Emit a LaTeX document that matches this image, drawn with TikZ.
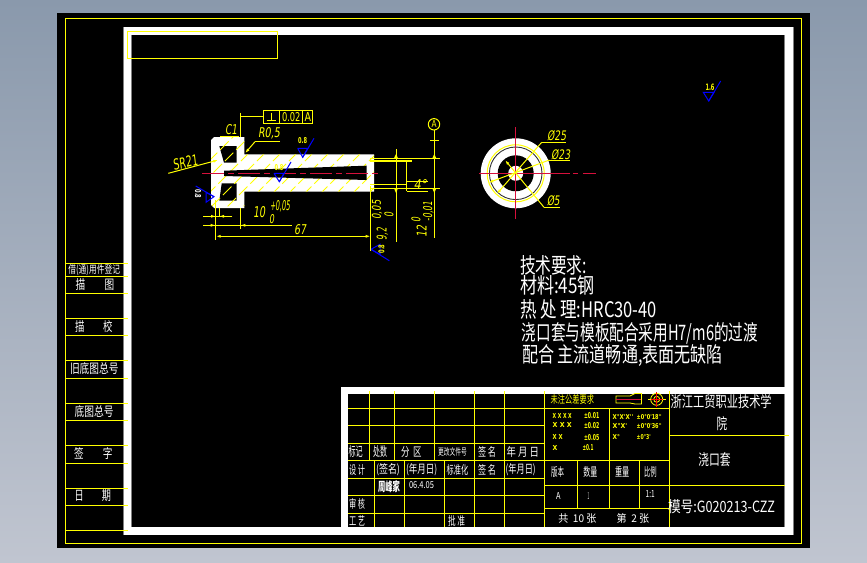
\documentclass[tikz,border=0pt]{standalone}
\usepackage{graphicx}
\usepackage{fontspec}
\setmainfont{Noto Sans CJK SC}
\newfontfamily\latf[FakeSlant=0.2]{DejaVu Sans}
\newfontfamily\plainf{DejaVu Sans}
\usetikzlibrary{arrows.meta}
\definecolor{cadyel}{RGB}{255,255,0}
\definecolor{cadred}{RGB}{214,16,60}
\definecolor{cadblue}{RGB}{0,0,255}
\definecolor{bgtop}{RGB}{138,153,172}
\definecolor{bgbot}{RGB}{192,197,208}
\newcounter{tcnt}
% colour, centre x, centre y, width, height, rotation, text
\newcommand{\tc}[7]{\stepcounter{tcnt}\node[inner sep=0pt,text=#1,rotate=#6] (t\thetcnt) at (#2,#3) {\resizebox{#4pt}{#5pt}{#7}};}
% colour, left x, right x, centre y, height, text
\newcommand{\tl}[6]{\pgfmathsetmacro{\cxa}{(#2+#3)/2}\pgfmathsetmacro{\wxa}{#3-#2}\tc{#1}{\cxa}{#4}{\wxa}{#5}{0}{#6}}
\tikzset{
 yl/.style={draw=cadyel,line width=1pt},
 ythin/.style={draw=cadyel,line width=0.8pt},
 ctr/.style={draw=cadred,line width=0.9pt},
 rough/.style={draw=cadblue,line width=1pt},
 tipa/.style={-{Latex[length=5pt,width=3pt]},draw=cadyel,line width=1pt},
 tipb/.style={{Latex[length=5pt,width=3pt]}-{Latex[length=5pt,width=3pt]},draw=cadyel,line width=1pt},
}
\begin{document}
\begin{tikzpicture}[x=1pt,y=-1pt]
\useasboundingbox (0,0) rectangle (867,562);
\shade[top color=bgtop,bottom color=bgbot] (0,0) rectangle (867,562);
\fill[black] (57,13) rectangle (810,548);
\draw[yl] (65,18.5) rectangle (801.5,543);
% white sheet frame
\fill[white] (124,27) rectangle (793,535);
\fill[black] (131.5,35) rectangle (785,527);
\draw[gray,line width=0.8pt] (123.6,27) -- (123.6,535);
\draw[gray,line width=0.8pt] (131.5,35) -- (131.5,527);
\draw[gray,line width=0.8pt] (793.4,27) -- (793.4,535);
\draw[gray,line width=0.8pt] (784.6,35) -- (784.6,527);
\draw[yl] (127.5,31.5) rectangle (277.5,58.5);
% side table
\foreach \yy in {263.3,276.3,293.3,318.3,335.3,360.3,378.3,403.3,420.3,445.3,463.3,488.3,505.3,530.3}{\draw[yl] (65.5,\yy) -- (127.7,\yy);}
\tl{white}{68.3}{120}{270.3}{9}{借(通)用件登记}
\tl{white}{75.7}{114.3}{284.8}{11}{描\quad\quad 图}
\tl{white}{75}{112.5}{326.7}{11}{描\quad\quad 校}
\tl{white}{70}{118.5}{368.3}{11}{旧底图总号}
\tl{white}{74.5}{113.5}{411.7}{11}{底图总号}
\tl{white}{74}{112.5}{453.7}{11}{签\quad\quad 字}
\tl{white}{74.5}{111}{496}{11}{日\quad\quad 期}
% title block white band
\fill[white] (341,387) rectangle (786,394);
\fill[white] (341,387) rectangle (348.3,527);
\foreach \yy in {408.3,425.7,443.7,460.3,478.3,495.3,513.3}{\draw[yl] (348,\yy) -- (544.3,\yy);}
\foreach \xx in {369.3,394.3,434.3}{\draw[yl] (\xx,391) -- (\xx,460.3);}
\foreach \xx in {474.3,504.3,544.3}{\draw[yl] (\xx,391) -- (\xx,527);}
\foreach \xx in {374.3,404.7,444.7}{\draw[yl] (\xx,460.3) -- (\xx,527);}
\draw[yl] (669.3,391) -- (669.3,527);
\foreach \yy in {408.3,460.3,485,508.3}{\draw[yl] (544.3,\yy) -- (669.3,\yy);}
\draw[yl] (609.3,408.3) -- (609.3,508.3);
\draw[yl] (577.3,460.3) -- (577.3,508.3);
\draw[yl] (639.3,460.3) -- (639.3,508.3);
\draw[yl] (669.3,435.3) -- (789.3,435.3);
\draw[yl] (669.3,485) -- (785,485);
% title block text
\tl{white}{348.5}{362.7}{451.7}{11}{标记}
\tl{white}{373}{387}{451.7}{11}{处数}
\tl{white}{401}{421.7}{451.7}{10}{分\ \ 区}
\tl{white}{438}{467}{452}{8}{更改文件号}
\tl{white}{478}{496}{451.7}{10}{签\ 名}
\tl{white}{506.7}{539}{451.7}{10}{年\ 月\ 日}
\tl{white}{349}{365}{470}{10}{设\ 计}
\tl{white}{376}{400}{470}{10}{(签名)}
\tl{white}{406}{437.3}{470}{10}{(年月日)}
\tl{white}{446.7}{468.3}{470}{10}{标准化}
\tl{white}{478}{496}{470}{10}{签\ 名}
\tl{white}{505.7}{535.7}{470}{10}{(年月日)}
\tl{white}{378}{400}{486.7}{11}{\bfseries 周峰家}
\tl{white}{409}{434}{485.5}{7}{06.4.05}
\tl{white}{349}{365}{504.3}{10}{审\ 核}
\tl{white}{349}{365}{520.7}{10}{工\ 艺}
\tl{white}{448}{465}{520.7}{10}{批\ 准}
\tl{white}{551}{564}{471.5}{10}{版本}
\tl{white}{583.3}{597.3}{471.7}{10}{数量}
\tl{white}{615}{629.3}{471.7}{10}{重量}
\tl{white}{644}{656.7}{471.7}{10}{比例}
\tl{white}{556}{560.5}{495.7}{7}{A}
\tl{white}{587.5}{589}{495.7}{7}{1}
\tl{white}{645.7}{654.7}{494.5}{7}{1:1}
\tl{white}{558.3}{649.3}{518.3}{9}{共\ \ 10\ 张\quad\quad 第\ \ 2\ 张}
\tl{white}{670.7}{771.7}{401.7}{13}{浙江工贸职业技术学}
\tl{white}{716.7}{727.3}{424}{13}{院}
\tl{white}{698.3}{730.7}{460}{13}{浇口套}
\tl{white}{668}{775}{506.7}{13}{模号:G020213-CZZ}
% tolerance table
\tl{cadyel}{550.7}{594}{399}{9}{未注公差要求}
\draw[ythin] (616,396) -- (630,396) -- (635,393.5) -- (641.5,393.5) -- (641.5,404) -- (635,404) -- (630,403) -- (616,403) -- cycle;
\draw[ctr] (616,399.5) -- (641,399.5);
\draw[ythin] (656.7,399.3) circle (6);
\draw[ythin] (656.7,399.3) circle (3);
\draw[ythin] (648,399.3) -- (666,399.3);
\draw[draw=red,line width=1pt] (656.7,392) -- (656.7,407);
\draw[draw=red,line width=1pt] (651,399.3) -- (663,399.3);
\tl{cadyel}{552.7}{571.7}{415.7}{5}{\plainf\bfseries X X X X}
\tl{cadyel}{552.7}{571.7}{425}{5}{\plainf\bfseries X X X}
\tl{cadyel}{552.7}{562.7}{437.3}{5}{\plainf\bfseries X X}
\tl{cadyel}{552.7}{557.5}{447.7}{5}{\plainf\bfseries X}
\tl{cadyel}{584}{599.3}{415.7}{6}{\plainf\bfseries ±0.01}
\tl{cadyel}{584}{599.3}{425.5}{6}{\plainf\bfseries ±0.02}
\tl{cadyel}{584}{599.3}{437.3}{6}{\plainf\bfseries ±0.05}
\tl{cadyel}{582.5}{593.5}{447.7}{6}{\plainf\bfseries ±0.1}
\tl{cadyel}{612.7}{633.3}{416.7}{5}{\plainf\bfseries X°X'X''}
\tl{cadyel}{612.7}{627.3}{426.3}{5}{\plainf\bfseries X°X'}
\tl{cadyel}{612.7}{620}{437.3}{5}{\plainf\bfseries X°}
\tl{cadyel}{636.7}{661.7}{416.7}{5}{\plainf\bfseries ±0°0'18''}
\tl{cadyel}{636.7}{661.7}{426.3}{5}{\plainf\bfseries ±0°0'36''}
\tl{cadyel}{636.7}{650.7}{437.3}{5}{\plainf\bfseries ±0°3'}
% technical requirements
\tl{white}{520}{587}{265}{18}{技术要求:}
\tl{white}{520}{595}{285.5}{18}{材料:45钢}
\tl{white}{520}{657}{309}{18}{热\ 处\ 理:HRC30-40}
\tl{white}{522}{758}{333}{18}{浇口套与模板配合采用H7/m6的过渡}
\tl{white}{522}{723}{356}{18}{配合\ 主流道畅通,表面无缺陷}
% part section
\path[fill=white] (214,137) -- (244.3,137) -- (244.3,154.3) -- (374,154.3) -- (374,191.7) -- (244.3,191.7) -- (244.3,208) -- (214,208) -- (211,205) -- (211,140) -- cycle;
\fill[black] (219.3,146) -- (236.7,146) -- (236.7,162.7) -- (224,162.7) -- cycle;
\fill[black] (221.7,183.3) -- (236.7,183.3) -- (236.7,200.7) -- (219.3,200.7) -- cycle;
\begin{scope}
\clip (214,137) -- (244.3,137) -- (244.3,154.3) -- (374,154.3) -- (374,191.7) -- (244.3,191.7) -- (244.3,208) -- (214,208) -- (211,205) -- (211,140) -- cycle;
\foreach \cc in {370,386,...,570}{\draw[draw=cadyel,line width=1pt,dash pattern=on 12pt off 4pt] (\cc-130,130) -- (\cc-215,215);}
\end{scope}
\fill[black] (224,170.7) -- (366.7,165.7) -- (366.7,180) -- (224,176) -- cycle;
\draw[ctr,dash pattern=on 22pt off 4pt on 6pt off 4pt] (202,173) -- (378,173);
% roughness marks
\draw[rough] (297.7,148.3) -- (307.7,148.3) -- (302.7,157.3) -- (297.7,148.3);
\draw[rough] (302.7,157.3) -- (314,138.3);
\tc{cadyel}{302.7}{141}{9}{6}{0}{\plainf\bfseries 0.8}
\draw[rough] (274,173.3) -- (284,173.3) -- (279.3,181.7) -- (274,173.3);
\draw[rough] (279.3,181.7) -- (291,162);
\tc{cadyel}{279}{167.5}{9}{6}{0}{\plainf\bfseries 0.8}
\draw[rough] (206,192.3) -- (206,202.3) -- (214,196.7) -- cycle;
\draw[rough] (214,196.7) -- (195.7,186);
\tc{white}{198}{194}{9}{6}{-90}{\plainf\bfseries 0.8}
\draw[rough] (380,244.3) -- (380,254.3) -- (371,249.3) -- cycle;
\draw[rough] (371,249.3) -- (389.3,260.7);
\tc{cadyel}{381.5}{249}{9}{6}{90}{\plainf\bfseries 0.8}
\draw[rough] (703.3,92.3) -- (714,92.3) -- (708.7,101) -- cycle;
\draw[rough] (708.7,101) -- (720.7,81);
\tc{cadyel}{710}{87}{9}{6.5}{0}{\plainf\bfseries 1.6}
% perpendicularity frame
\draw[yl] (263.3,110) rectangle (312.7,123.3);
\draw[yl] (279.3,110) -- (279.3,123.3);
\draw[yl] (302.7,110) -- (302.7,123.3);
\draw[yl] (266.5,120.5) -- (276,120.5);
\draw[yl] (271.3,112.5) -- (271.3,120.5);
\tl{cadyel}{282}{300.5}{116.7}{9}{\plainf 0.02}
\tl{cadyel}{304.5}{311}{116.7}{9}{\plainf A}
\draw[yl] (240.3,112.7) -- (240.3,137);
\draw[yl,line width=1.5pt] (240.3,116.7) -- (263.3,116.7);
% leaders
\draw[yl] (220,136.7) -- (239.3,136.7);
\tc{cadyel}{231}{130}{12}{10}{0}{\latf C1}
\draw[yl] (280,141.7) -- (255,141.7);
\draw[tipa] (255,141.7) -- (245,153.3);
\tc{cadyel}{269}{133.5}{22}{10}{0}{\latf R0,5}
\draw[tipa] (168.3,173.3) -- (218.3,160);
\tc{cadyel}{185}{162.5}{25}{11}{14}{\latf SR21}
% dimensions
\draw[yl] (215.7,200) -- (215.7,240);
\draw[yl] (219,208) -- (219,216.3);
\draw[yl] (240.3,208) -- (240.3,229);
\draw[yl] (203,216.3) -- (232.3,216.3);
\draw[tipa] (203,216.3) -- (216,216.3);
\draw[tipa] (232.3,216.3) -- (219,216.3);
\draw[yl] (203.3,225.3) -- (291.7,225.3);
\draw[tipa] (204,225.3) -- (215.7,225.3);
\draw[tipa] (247,225.3) -- (240.3,225.3);
\draw[tipb] (215.7,236.3) -- (370.7,236.3);
\tc{cadyel}{300}{230}{12}{10}{0}{\latf 67}
\tc{cadyel}{259}{212}{12}{11}{0}{\latf 10}
\tc{cadyel}{280}{206}{20}{10}{0}{\latf +0,05}
\tc{cadyel}{271.7}{219}{5}{9}{0}{\latf 0}
\draw[yl] (370.7,186) -- (370.7,250.7);
\tc{cadyel}{382.5}{234}{12}{10}{90}{\latf 9,2}
\tc{cadyel}{377}{210}{19}{9}{90}{\latf 0,05}
\tc{cadyel}{389}{215}{5}{9}{90}{\latf 0}
% right hand dims
\draw[yl] (396,149) -- (396,241.7);
\draw[yl] (434.3,140.7) -- (434.3,238);
\draw[yl] (370,158.3) -- (440,158.3);
\draw[yl,line width=1.5pt] (370,161) -- (412,161);
\draw[yl,line width=1.5pt] (370,184.6) -- (406.7,184.6);
\draw[yl] (370,188.3) -- (440,188.3);
\draw[yl] (406.7,161) -- (406.7,191);
\draw[yl] (406.7,191) -- (428,191);
\draw[yl] (406.7,181) -- (428,181);
\fill[cadyel] (396,154) -- (398,158.3) -- (394,158.3) -- cycle;
\fill[cadyel] (396,193) -- (398,188.3) -- (394,188.3) -- cycle;
\fill[cadyel] (434.3,154) -- (436.3,158.3) -- (432.3,158.3) -- cycle;
\fill[cadyel] (434.3,193) -- (436.3,188.3) -- (432.3,188.3) -- cycle;
\tc{cadyel}{420}{184.5}{13}{10}{0}{\latf 4°}
\tc{cadyel}{421.7}{231}{12}{10}{90}{\latf 12}
\tc{cadyel}{416}{220}{5}{9}{90}{\latf 0}
\tc{cadyel}{428.3}{211.7}{20}{9}{90}{\latf -0,01}
% datum
\draw[yl] (434,124.3) circle (5.7);
\draw[yl] (434,130) -- (434,140.7);
\draw[yl,line width=1.5pt] (430,140.7) -- (438.7,140.7);
\tc{cadyel}{434}{124}{5}{7}{0}{\plainf A}
% end view
\fill[white] (515.7,173.3) circle (35);
\fill[black] (515.7,173.3) circle (18);
\fill[white] (515.7,173.3) circle (7.5);
\draw[draw=black!80,line width=0.9pt] (515.7,173.3) circle (26.3);
\draw[yl] (515.7,173.3) circle (28.5);
\draw[ctr] (515.7,127.3) -- (515.7,219.3);
\draw[ctr] (479,173.3) -- (570,173.3);
\draw[ctr] (573,173.3) -- (578,173.3);
\draw[ctr] (583,173.3) -- (596,173.3);
\draw[yl] (541.7,142.3) -- (566,142.3);
\draw[tipa] (541.7,142.3) -- (496.7,194);
\draw[yl] (549.3,160) -- (570,160);
\draw[tipa] (549.3,160) -- (488.3,182.7);
\draw[yl] (544,207.3) -- (560,207.3);
\draw[tipa] (544,207.3) -- (505,160);
\tc{cadyel}{556.7}{136}{19}{10}{0}{\latf Ø25}
\tc{cadyel}{560.7}{154.3}{19}{10}{0}{\latf Ø23}
\tc{cadyel}{553.3}{201}{13}{10}{0}{\latf Ø5}
\end{tikzpicture}
\end{document}
